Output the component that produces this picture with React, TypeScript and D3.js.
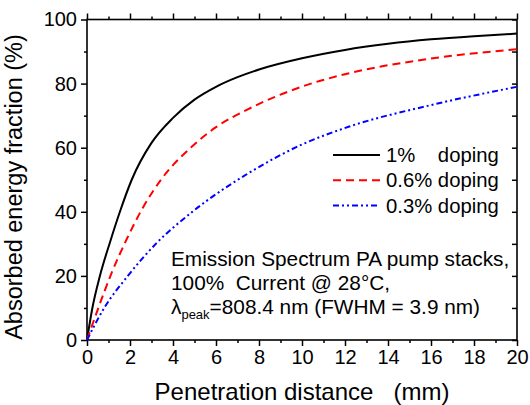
import React, { useEffect, useRef } from 'react';
import * as d3 from 'd3';

// values (x in mm, y in %)
const dist1 = [0, 0.25, 0.6, 1.07, 1.53, 2.08, 3, 4, 5, 6, 7, 8, 10, 12, 14, 16, 18, 20];
const frac1 = [0, 10, 20, 30.5, 40, 50, 61.5, 69.3, 75, 79, 82, 84.4, 87.9, 90.5, 92.4, 93.8, 94.8, 95.6];

const dist06 = [0, 0.5, 1.15, 1.85, 2.6, 3.44, 4.87, 6, 7.43, 10.06, 12.23, 16, 20];
const frac06 = [0, 9.5, 21, 31.5, 41.3, 50, 60.3, 66.4, 71.8, 79.2, 83.3, 87.8, 90.7];

const dist03 = [0, 0.8, 1.9, 3.2, 4.9, 7.5, 10, 12.2, 16, 20];
const frac03 = [0, 10, 20, 30, 40, 52, 61, 66.6, 73.3, 79];

const legendLabels = ['1%    doping', '0.6% doping', '0.3% doping'];
const xMajor = d3.range(0, 21, 2);
const xMinor = d3.range(1, 20, 2);
const yMajor = d3.range(0, 101, 20);
const yMinor = d3.range(10, 100, 20);
const yRight = d3.range(0, 101, 10);

const FONT = '"Liberation Sans", Arial, sans-serif';

const App = () => {
  const svgRef = useRef<SVGSVGElement | null>(null);

  useEffect(() => {
    const svgEl = svgRef.current;
    if (!svgEl) return;
    const svg = d3.select(svgEl);
    svg.selectAll('*').remove();

    const width = 530;
    const height = 405;
    const left = 87;
    const right = 517;
    const top = 19.5;
    const bottom = 340;

    svg.attr('width', width).attr('height', height).attr('viewBox', `0 0 ${width} ${height}`);
    svg.append('rect').attr('width', width).attr('height', height).attr('fill', '#ffffff');

    const x = d3.scaleLinear().domain([0, 20]).range([left, right]);
    const y = d3.scaleLinear().domain([0, 100]).range([bottom, top]);

    const styleAxis = (sel: any) => {
      sel.select('.domain').remove();
      sel.selectAll('line').attr('stroke', '#000').attr('stroke-width', 1.5);
      sel.selectAll('text').attr('fill', '#000').attr('font-size', 20).attr('font-family', FONT);
    };

    // bottom axis
    svg.append('g')
      .attr('transform', `translate(0,${bottom})`)
      .call(d3.axisBottom(x).tickValues(xMajor).tickSize(6).tickPadding(4).tickFormat(d3.format('d')))
      .call(styleAxis);
    svg.append('g')
      .attr('transform', `translate(0,${bottom})`)
      .call(d3.axisBottom(x).tickValues(xMinor).tickSize(3).tickFormat(() => ''))
      .call(styleAxis);

    // top axis
    svg.append('g')
      .attr('transform', `translate(0,${top})`)
      .call(d3.axisTop(x).tickValues(xMajor).tickSize(6).tickFormat(() => ''))
      .call(styleAxis);
    svg.append('g')
      .attr('transform', `translate(0,${top})`)
      .call(d3.axisTop(x).tickValues(xMinor).tickSize(3).tickFormat(() => ''))
      .call(styleAxis);

    // left axis
    svg.append('g')
      .attr('transform', `translate(${left},0)`)
      .call(d3.axisLeft(y).tickValues(yMajor).tickSize(6).tickPadding(4).tickFormat(d3.format('d')))
      .call(styleAxis);
    svg.append('g')
      .attr('transform', `translate(${left},0)`)
      .call(d3.axisLeft(y).tickValues(yMinor).tickSize(3).tickFormat(() => ''))
      .call(styleAxis);

    // right axis, ticks point inward
    svg.append('g')
      .attr('transform', `translate(${right},0)`)
      .call(d3.axisRight(y).tickValues(yRight).tickSize(-5).tickFormat(() => ''))
      .call(styleAxis);

    // frame
    svg.append('rect')
      .attr('x', left)
      .attr('y', top)
      .attr('width', right - left)
      .attr('height', bottom - top)
      .attr('fill', 'none')
      .attr('stroke', '#000')
      .attr('stroke-width', 1.6);

    const line = d3
      .line<[number, number]>()
      .x((d) => x(d[0]))
      .y((d) => y(d[1]))
      .curve(d3.curveMonotoneX);

    const series = [
      { xs: dist1, ys: frac1, color: '#000000', dash: null },
      { xs: dist06, ys: frac06, color: '#ff0000', dash: '8,5' },
      { xs: dist03, ys: frac03, color: '#0000ff', dash: '6,3,2,3,2,3' },
    ];

    series.forEach((s) => {
      const pts = s.xs.map((v, i) => [v, s.ys[i]] as [number, number]);
      const p = svg.append('path')
        .datum(pts)
        .attr('fill', 'none')
        .attr('stroke', s.color)
        .attr('stroke-width', 2)
        .attr('d', line);
      if (s.dash) p.attr('stroke-dasharray', s.dash);
    });

    // legend
    const legend = svg.append('g');
    series.forEach((s, i) => {
      const ly = 155 + i * 25.3;
      const l = legend.append('line')
        .attr('x1', 333)
        .attr('x2', 380)
        .attr('y1', ly)
        .attr('y2', ly)
        .attr('stroke', s.color)
        .attr('stroke-width', 2);
      if (s.dash) l.attr('stroke-dasharray', s.dash);
      legend.append('text')
        .attr('x', 386)
        .attr('y', ly + 7)
        .attr('font-size', 20.3)
        .attr('font-family', FONT)
        .style('white-space', 'pre')
        .attr('fill', '#000')
        .text(legendLabels[i]);
    });

    // annotation
    const note = svg.append('g').attr('font-size', 20.8).attr('font-family', FONT).attr('fill', '#000');
    note.append('text').attr('x', 171).attr('y', 266).text('Emission Spectrum PA pump stacks,');
    note.append('text').attr('x', 171).attr('y', 290).style('white-space', 'pre').text('100%  Current @ 28°C,');
    const t3 = note.append('text').attr('x', 171).attr('y', 314);
    t3.append('tspan').text('λ');
    t3.append('tspan').attr('font-size', 13).attr('dy', 5).text('peak');
    t3.append('tspan').attr('dy', -5).text('=808.4 nm (FWHM = 3.9 nm)');

    // axis titles
    svg.append('text')
      .attr('x', 302)
      .attr('y', 400)
      .attr('text-anchor', 'middle')
      .attr('font-size', 24)
      .attr('font-family', FONT)
      .style('white-space', 'pre')
      .text('Penetration distance   (mm)');

    svg.append('text')
      .attr('transform', 'translate(22,187) rotate(-90)')
      .attr('text-anchor', 'middle')
      .attr('font-size', 23.5)
      .attr('font-family', FONT)
      .text('Absorbed energy fraction (%)');
  }, []);

  return <svg ref={svgRef} style={{ position: 'absolute', left: 0, top: 0, display: 'block' }} />;
};

export default App;
